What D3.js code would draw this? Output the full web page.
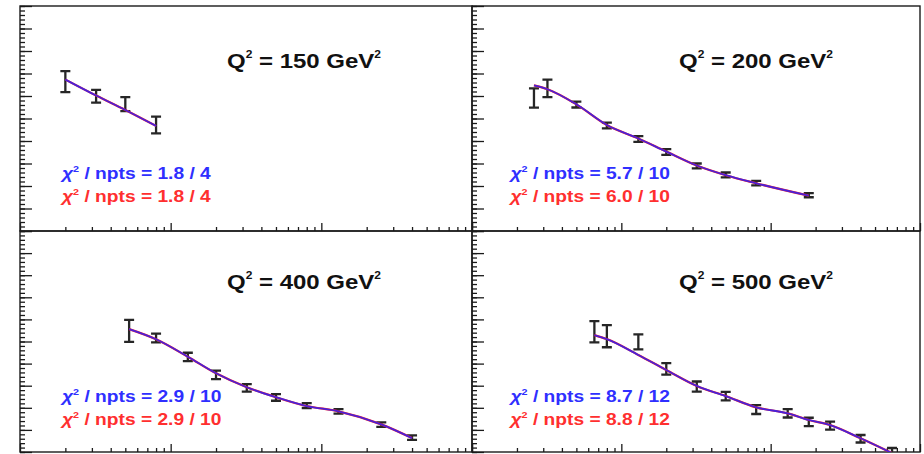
<!DOCTYPE html>
<html lang="en">
<head>
  <meta charset="UTF-8">
  <title>Q2 bins</title>
  <style>
    body{ margin:0; background:#fff; }
    svg{ display:block; font-family:"Liberation Sans", Arial, sans-serif; }
    .frame{ fill:none; stroke:#1a1a1a; stroke-width:1.4; }
    .tick line{ stroke:#1a1a1a; stroke-width:1.3; }
    .ebar{ stroke:#262626; stroke-width:2.3; fill:none; }
  </style>
</head>
<body>
  <script src="https://cdn.jsdelivr.net/npm/d3@7"></script>
  <script>
    const W = 924, H = 454;

    // Q2 bins, one panel each
    const q2Labels = ['150', '200', '400', '500'];

    // x (Bjorken) of the measured points
    const x150 = [0.002, 0.0032, 0.005, 0.008];
    const x200 = [0.0026, 0.0032, 0.005, 0.008, 0.013, 0.02, 0.032, 0.05, 0.08, 0.18];
    const x400 = [0.0053, 0.008, 0.013, 0.02, 0.032, 0.05, 0.08, 0.13, 0.25, 0.4];
    const x500 = [0.0066, 0.008, 0.013, 0.02, 0.032, 0.05, 0.08, 0.13, 0.18, 0.25, 0.4, 0.65];

    // measured values and errors
    const data150 = [0.664, 0.599, 0.564, 0.471];
    const err150  = [0.047, 0.028, 0.031, 0.037];
    const data200 = [0.591, 0.634, 0.562, 0.469, 0.409, 0.351, 0.289, 0.249, 0.213, 0.159];
    const err200  = [0.043, 0.039, 0.013, 0.013, 0.013, 0.013, 0.011, 0.011, 0.010, 0.009];
    const data400 = [0.548, 0.516, 0.430, 0.349, 0.290, 0.247, 0.210, 0.184, 0.124, 0.065];
    const err400  = [0.050, 0.020, 0.019, 0.019, 0.017, 0.015, 0.011, 0.010, 0.010, 0.010];
    const data500 = [0.544, 0.524, 0.498, 0.376, 0.296, 0.253, 0.192, 0.175, 0.136, 0.119, 0.060, 0.002];
    const err500  = [0.048, 0.050, 0.034, 0.026, 0.023, 0.019, 0.020, 0.019, 0.019, 0.018, 0.017, 0.016];

    // fit curves (blue and red fits lie on top of each other)
    const fit150 = [0.673, 0.602, 0.538, 0.467];
    const fit200 = [0.647, 0.630, 0.563, 0.471, 0.411, 0.353, 0.291, 0.248, 0.212, 0.157];
    const fit400 = [0.556, 0.510, 0.431, 0.356, 0.293, 0.248, 0.208, 0.184, 0.125, 0.063];
    const fit500 = [0.529, 0.511, 0.439, 0.371, 0.299, 0.253, 0.202, 0.175, 0.145, 0.122, 0.062, -0.005];

    // chi2 labels
    const chiBlue = ['1.8 / 4', '5.7 / 10', '2.9 / 10', '8.7 / 12'];
    const chiRed  = ['1.8 / 4', '6.0 / 10', '2.9 / 10', '8.8 / 12'];

    const xs = [x150, x200, x400, x500];
    const ds = [data150, data200, data400, data500];
    const es = [err150, err200, err400, err500];
    const fs = [fit150, fit200, fit400, fit500];

    // panel frames: [left, right, top, bottom]
    const panels = [
      [20, 472, 6, 231], [472, 920, 6, 231],
      [20, 472, 231, 452], [472, 920, 231, 452]
    ];
    const stretch = 1.2;

    const svg = d3.select('body').append('svg')
      .attr('width', W)
      .attr('height', H);

    panels.forEach((p, i) => {
      const [l, r, t, b] = p;
      const x = d3.scaleLog().domain([1e-3, 1]).range([l, r]);
      const y = d3.scaleLinear().domain([0, 1]).range([b, t]);
      const g = svg.append('g');

      g.append('clipPath').attr('id', 'clip' + i)
        .append('rect').attr('x', l).attr('y', t).attr('width', r - l).attr('height', b - t);

      // left axis: major + minor ticks, pointing inwards
      const yMaj = d3.axisRight(y).tickValues(d3.range(0, 1.001, 0.1)).tickSize(12).tickFormat('');
      const yMin = d3.axisRight(y).tickValues(d3.range(0, 1.001, 0.02)).tickSize(5).tickFormat('');
      g.append('g').attr('transform', `translate(${l},0)`).call(yMin).call(a => a.select('.domain').remove());
      g.append('g').attr('transform', `translate(${l},0)`).call(yMaj).call(a => a.select('.domain').remove());

      // bottom axis (log), ticks pointing up
      const minorX = [];
      [1e-3, 1e-2, 1e-1].forEach(d => { for (let k = 2; k <= 9; k++) minorX.push(d * k); });
      const xMaj = d3.axisTop(x).tickValues([1e-3, 1e-2, 1e-1, 1]).tickSize(8).tickFormat('');
      const xMin = d3.axisTop(x).tickValues(minorX).tickSize(4).tickFormat('');
      g.append('g').attr('transform', `translate(0,${b})`).call(xMin).call(a => a.select('.domain').remove());
      g.append('g').attr('transform', `translate(0,${b})`).call(xMaj).call(a => a.select('.domain').remove());

      g.append('rect').attr('class', 'frame')
        .attr('x', l).attr('y', t).attr('width', r - l).attr('height', b - t);

      const pts = xs[i].map((xv, j) => ({ x: xv, v: ds[i][j], e: es[i][j], f: fs[i][j] }));
      const plot = g.append('g').attr('clip-path', `url(#clip${i})`);

      // error bars
      const cap = 5;
      const eb = plot.selectAll('g.eb').data(pts).join('g').attr('class', 'eb');
      eb.append('path').attr('class', 'ebar')
        .attr('d', d => {
          const cx = x(d.x), y1 = y(d.v + d.e), y2 = y(d.v - d.e);
          return `M${cx},${y1}V${y2}M${cx - cap},${y1}H${cx + cap}M${cx - cap},${y2}H${cx + cap}`;
        });

      // fit curves
      const line = d3.line().x(d => x(d.x)).y(d => y(d.f)).curve(d3.curveMonotoneX);
      plot.append('path').datum(pts).attr('d', line)
        .attr('fill', 'none').attr('stroke', '#ff2020').attr('stroke-width', 2.2);
      plot.append('path').datum(pts).attr('d', line)
        .attr('fill', 'none').attr('stroke', '#3b22e6').attr('stroke-width', 1.8).attr('opacity', 0.92);

      // title
      const titleY = t + (i < 2 ? 61.5 : 57.5);
      const tt = g.append('text')
        .attr('transform', `translate(${l + 207},${titleY}) scale(${stretch},1)`)
        .attr('font-size', 20).attr('font-weight', 'bold').attr('fill', '#111');
      tt.append('tspan').text('Q');
      tt.append('tspan').attr('font-size', 10).attr('dy', -10).text('2');
      tt.append('tspan').attr('dy', 10).text(' = ' + q2Labels[i] + ' GeV');
      tt.append('tspan').attr('font-size', 10).attr('dy', -10).text('2');

      // chi2 labels
      const chiX = l + (i % 2 === 0 ? 42 : 38.5);
      const chiY = t + (i < 2 ? 172.5 : 170.5);
      [[chiBlue[i], '#2f2fff', 0], [chiRed[i], '#ff2f2f', 23.5]].forEach(([txt, col, dy]) => {
        const c = g.append('text')
          .attr('transform', `translate(${chiX},${chiY + dy}) scale(${stretch},1)`)
          .attr('font-size', 16).attr('font-weight', 'bold').attr('fill', col);
        c.append('tspan').attr('font-style', 'italic').text('χ');
        c.append('tspan').attr('font-size', 9).attr('dy', -7).text('2');
        c.append('tspan').attr('dy', 7).text(' / npts = ' + txt);
      });
    });
  </script>
</body>
</html>
